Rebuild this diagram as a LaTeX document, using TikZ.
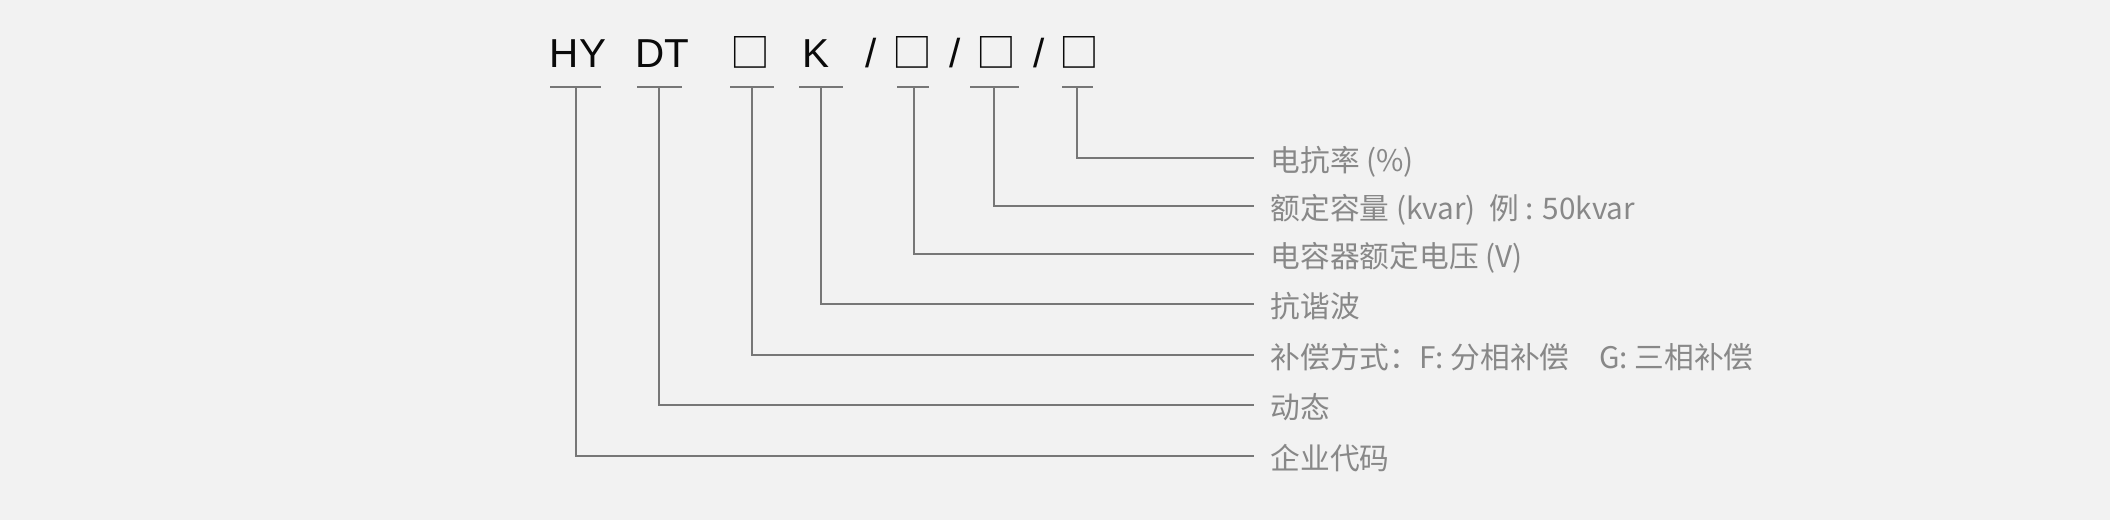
\documentclass[tikz,border=0pt]{standalone}
\usepackage{fontspec}
\setmainfont{Noto Sans CJK SC}
\newfontfamily\latinfont{Liberation Sans}
\definecolor{bg}{HTML}{F2F2F2}
\definecolor{lbl}{HTML}{888888}
\definecolor{ln}{HTML}{777777}
\definecolor{tk}{HTML}{0A0A0A}
\begin{document}
\begin{tikzpicture}[x=0.01cm,y=-0.01cm,
  token/.style={anchor=base,inner sep=0pt,text=tk,font=\latinfont\fontsize{11.5pt}{13pt}\selectfont},
  boxtok/.style={anchor=base,inner sep=0pt,text=tk,font=\fontsize{11.3pt}{13pt}\selectfont},
  lab/.style={anchor=west,inner ysep=0pt,inner xsep=0.16cm,text=lbl,text height=0.8em,text depth=0.04em,font=\fontsize{8.45pt}{10pt}\selectfont},
  conn/.style={draw=ln,line width=0.32pt}]
\fill[bg] (0,0) rectangle (2110,520);
\useasboundingbox (0,0) rectangle (2110,520);
% tokens
\node[token] (hy) at (578,67) {HY};
\node[token] (dt) at (662,67) {DT};
\node[boxtok] (b1) at (750,67) {□};
\node[token] (k)  at (816,67) {K};
\node[token] (s1) at (871,67) {/};
\node[boxtok] (b2) at (912.5,67) {□};
\node[token] (s2) at (955.5,67) {/};
\node[boxtok] (b3) at (996,67) {□};
\node[token] (s3) at (1039.5,67) {/};
\node[boxtok] (b4) at (1079,67) {□};
% labels
\node[lab] (l1) at (1254,158) {电抗率 (\%)};
\node[lab] (l2) at (1254,206) {额定容量 (kvar)\ \ 例 : 50kvar};
\node[lab] (l3) at (1254,254) {电容器额定电压 (V)};
\node[lab] (l4) at (1254,304) {抗谐波};
\node[lab] (l5) at (1254,355) {补偿方式：F: 分相补偿\hspace{1em}G: 三相补偿};
\node[lab] (l6) at (1254,405) {动态};
\node[lab] (l7) at (1254,456) {企业代码};
% underline coordinates
\coordinate (hya) at (550,87);  \coordinate (hyb) at (601,87);  \coordinate (hyv) at (576,87);
\coordinate (dta) at (637,87);  \coordinate (dtb) at (682,87);  \coordinate (dtv) at (659,87);
\coordinate (b1a) at (730,87);  \coordinate (b1b) at (774,87);  \coordinate (b1v) at (752,87);
\coordinate (ka)  at (799,87);  \coordinate (kb)  at (843,87);  \coordinate (kv)  at (821,87);
\coordinate (b2a) at (897,87);  \coordinate (b2b) at (929,87);  \coordinate (b2v) at (914,87);
\coordinate (b3a) at (970,87);  \coordinate (b3b) at (1019,87); \coordinate (b3v) at (994,87);
\coordinate (b4a) at (1062,87); \coordinate (b4b) at (1093,87); \coordinate (b4v) at (1077,87);
% underlines
\foreach \n in {hy,dt,b1,k,b2,b3,b4} {\draw[conn] (\n a) -- (\n b);}
% connectors
\draw[conn] (b4v) |- (l1.west);
\draw[conn] (b3v) |- (l2.west);
\draw[conn] (b2v) |- (l3.west);
\draw[conn] (kv)  |- (l4.west);
\draw[conn] (b1v) |- (l5.west);
\draw[conn] (dtv) |- (l6.west);
\draw[conn] (hyv) |- (l7.west);
\end{tikzpicture}
\end{document}
